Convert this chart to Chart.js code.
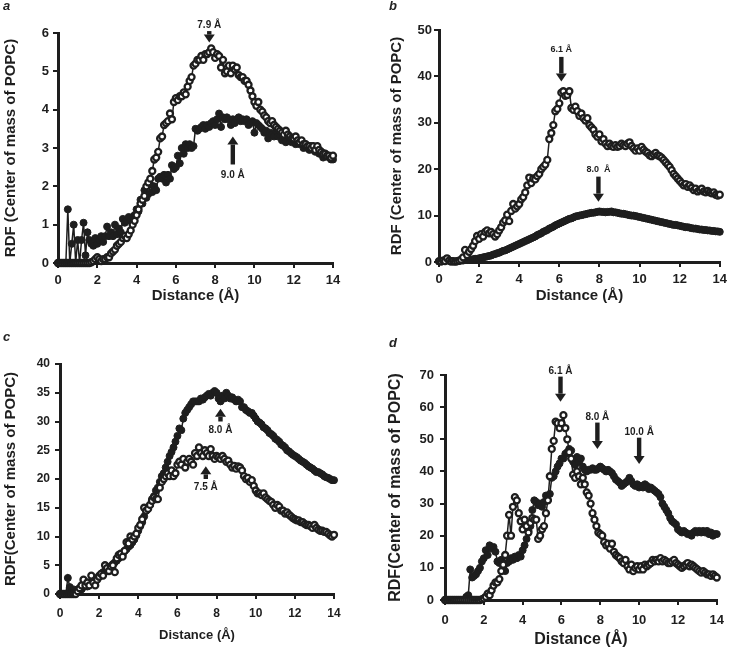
<!DOCTYPE html>
<html lang="en">
<head>
    <meta charset="UTF-8">
    <title>RDF (Center of mass of POPC)</title>
    <script src="https://cdn.jsdelivr.net/npm/chart.js"></script>
    <style>
        body { margin: 0; background: #fff; }
        #page { position: relative; width: 732px; height: 649px; }
        .panel { position: absolute; }
        .letter { position: absolute; font: italic bold 13px "Liberation Sans", Arial, sans-serif; color: #222; }
    </style>
</head>
<body>
<div id="page">
    <div class="panel" style="left:0;top:0"><canvas id="chartA" width="366" height="305"></canvas></div>
    <div class="panel" style="left:366px;top:0"><canvas id="chartB" width="366" height="305"></canvas></div>
    <div class="panel" style="left:0;top:305px"><canvas id="chartC" width="366" height="344"></canvas></div>
    <div class="panel" style="left:366px;top:305px"><canvas id="chartD" width="366" height="344"></canvas></div>
    <span class="letter" style="left:3px;top:-2px">a</span>
    <span class="letter" style="left:389px;top:-2px">b</span>
    <span class="letter" style="left:3px;top:329px">c</span>
    <span class="letter" style="left:389px;top:335px">d</span>
</div>

<script>
    // distance axis (Å), 0.1 Å bins
    const distance = [
        0.0, 0.1, 0.2, 0.3, 0.4, 0.5, 0.6, 0.7, 0.8, 0.9,
        1.0, 1.1, 1.2, 1.3, 1.4, 1.5, 1.6, 1.7, 1.8, 1.9,
        2.0, 2.1, 2.2, 2.3, 2.4, 2.5, 2.6, 2.7, 2.8, 2.9,
        3.0, 3.1, 3.2, 3.3, 3.4, 3.5, 3.6, 3.7, 3.8, 3.9,
        4.0, 4.1, 4.2, 4.3, 4.4, 4.5, 4.6, 4.7, 4.8, 4.9,
        5.0, 5.1, 5.2, 5.3, 5.4, 5.5, 5.6, 5.7, 5.8, 5.9,
        6.0, 6.1, 6.2, 6.3, 6.4, 6.5, 6.6, 6.7, 6.8, 6.9,
        7.0, 7.1, 7.2, 7.3, 7.4, 7.5, 7.6, 7.7, 7.8, 7.9,
        8.0, 8.1, 8.2, 8.3, 8.4, 8.5, 8.6, 8.7, 8.8, 8.9,
        9.0, 9.1, 9.2, 9.3, 9.4, 9.5, 9.6, 9.7, 9.8, 9.9,
        10.0, 10.1, 10.2, 10.3, 10.4, 10.5, 10.6, 10.7, 10.8, 10.9,
        11.0, 11.1, 11.2, 11.3, 11.4, 11.5, 11.6, 11.7, 11.8, 11.9,
        12.0, 12.1, 12.2, 12.3, 12.4, 12.5, 12.6, 12.7, 12.8, 12.9,
        13.0, 13.1, 13.2, 13.3, 13.4, 13.5, 13.6, 13.7, 13.8, 13.9,
        14.0
    ];
    const xTicks = [0, 2, 4, 6, 8, 10, 12, 14];

    // panel a
    const aFilled = [
        0, 0, 0, 0, 0, 1.4, 0, 0.5, 1.0, 0,
        0.6, 0, 0.6, 1.05, 0.2, 0.8, 0.6, 0.5, 0.45, 0.65,
        0.5, 0.6, 0.7, 0.55, 0.7, 0.95, 0.7, 0.8, 0.7, 1.0,
        0.75, 0.9, 0.8, 1.15, 1.05, 1.1, 1.2, 1.1, 1.2, 1.25,
        1.4, 1.35, 1.65, 1.55, 1.9, 1.7, 1.8, 2.05, 1.85, 2.0,
        1.9, 2.2, 2.25, 2.2, 2.3, 2.1, 2.3, 2.2, 2.55, 2.45,
        2.5, 2.8, 2.6, 3.0, 2.85, 3.1, 3.0, 3.1, 3.0, 3.05,
        3.5, 3.45, 3.5, 3.55, 3.6, 3.5, 3.6, 3.55, 3.65, 3.7,
        3.6, 3.75, 3.9, 3.55, 3.8, 3.75, 3.8, 3.75, 3.6, 3.75,
        3.65, 3.75, 3.8, 3.7, 3.75, 3.7, 3.75, 3.6, 3.65, 3.7,
        3.4, 3.65, 3.6, 3.55, 3.5, 3.4, 3.45, 3.25, 3.4, 3.35,
        3.3, 3.45, 3.3, 3.35, 3.2, 3.3, 3.15, 3.35, 3.2, 3.15,
        3.25, 3.1, 3.2, 3.1, 3.15, 3.0, 3.1, 3.0, 2.95, 3.05,
        2.95, 2.9, 3.0, 2.85, 2.9, 2.75, 2.85, 2.8, 2.75, 2.7,
        2.7
    ];
    const aOpen = [
        0, 0, 0, 0, 0, 0, 0, 0, 0, 0,
        0, 0, 0, 0, 0, 0, 0, 0.02, 0.05, 0.1,
        0.15, 0.1, 0.05, 0.1, 0.1, 0.15, 0.15, 0.25, 0.3, 0.35,
        0.45, 0.5, 0.55, 0.65, 0.7, 0.65, 0.75, 0.85, 1.0, 1.1,
        1.25, 1.4, 1.55, 1.65, 1.75, 2.0, 2.1, 2.2, 2.4, 2.7,
        2.75, 2.9, 3.25, 3.3, 3.6, 3.65, 3.7, 3.9, 3.75, 4.2,
        4.3, 4.25, 4.35, 4.35, 4.45, 4.4, 4.6, 4.75, 4.85, 5.15,
        5.2, 5.3, 5.3, 5.4, 5.3, 5.45, 5.45, 5.5, 5.6, 5.5,
        5.35, 5.45, 5.4, 5.1, 5.3, 4.95, 5.0, 5.15, 4.95, 5.15,
        5.05, 5.1, 4.9, 4.85, 4.85, 4.75, 4.75, 4.65, 4.5, 4.35,
        4.2, 4.1, 4.2, 4.0, 3.95, 3.85, 3.8, 3.7, 3.65, 3.7,
        3.6, 3.55, 3.5, 3.45, 3.4, 3.35, 3.45, 3.35, 3.3, 3.25,
        3.25, 3.3, 3.2, 3.15, 3.2, 3.1, 3.1, 3.05, 3.05, 3.0,
        3.05, 2.95, 3.05, 2.95, 2.9, 2.85, 2.85, 2.8, 2.8, 2.75,
        2.8
    ];

    // panel b
    const bFilled = [
        0.1, 0.2, 0.3, 0.4, 0.6, 0.3, 0.2, 0.1, 0.1, 0.1,
        0.2, 0.3, 0.3, 0.4, 0.4, 0.5, 0.5, 0.6, 0.7, 0.7,
        0.8, 0.9, 1.0, 1.1, 1.2, 1.3, 1.4, 1.6, 1.7, 1.9,
        2.0, 2.2, 2.4, 2.5, 2.7, 2.9, 3.1, 3.3, 3.5, 3.7,
        3.9, 4.1, 4.3, 4.5, 4.7, 4.9, 5.1, 5.3, 5.5, 5.8,
        6.0, 6.2, 6.5, 6.7, 6.9, 7.2, 7.4, 7.6, 7.9, 8.1,
        8.3, 8.5, 8.7, 8.9, 9.1, 9.3, 9.4, 9.6, 9.8, 9.9,
        10.0, 10.1, 10.2, 10.3, 10.4, 10.5, 10.6, 10.6, 10.7, 10.8,
        10.9, 10.8, 10.8, 10.7, 10.8, 10.8, 10.9, 10.7, 10.7, 10.6,
        10.5, 10.4, 10.4, 10.3, 10.2, 10.1, 10.0, 10.0, 9.9, 9.8,
        9.7, 9.6, 9.5, 9.4, 9.3, 9.2, 9.1, 9.0, 8.9, 8.8,
        8.7, 8.6, 8.5, 8.4, 8.3, 8.2, 8.1, 8.0, 8.0, 7.9,
        7.8, 7.7, 7.6, 7.5, 7.5, 7.4, 7.3, 7.2, 7.2, 7.1,
        7.0, 7.0, 6.9, 6.9, 6.8, 6.8, 6.7, 6.7, 6.6, 6.6,
        6.5
    ];
    const bOpen = [
        0.2, 0.1, 0.3, 0.2, 0.8, 0.3, 0.1, 0.2, 0.1, 0.2,
        0.3, 0.5, 1.0, 2.6, 1.5, 2.2, 2.8, 3.5, 4.5, 5.6,
        5.0, 6.0, 5.5, 6.5, 6.8, 6.2, 6.5, 6.0, 5.5, 6.0,
        6.8, 7.5, 8.5, 9.0, 10.2, 8.8, 11.0, 12.5, 11.5, 12.0,
        12.5, 13.5, 14.0, 15.0, 16.5, 18.2, 17.0, 18.0, 17.8, 18.5,
        19.0, 20.0, 20.5, 21.0, 22.0, 26.5, 27.8, 29.5, 32.5, 33.0,
        34.2, 36.5, 36.8, 35.8, 36.0, 36.8, 33.2, 32.8, 33.5, 32.5,
        31.5, 32.0, 31.0, 30.5, 31.0, 29.5, 29.0, 28.5, 27.5, 27.0,
        27.5, 26.0, 26.5, 25.5, 25.0, 25.5, 25.0, 24.8, 25.2, 24.8,
        25.0, 25.5, 25.2, 25.0, 25.5, 25.8, 25.0, 24.5, 24.0, 24.5,
        24.0, 24.8, 24.2, 23.8, 23.5, 23.0, 22.8, 23.2, 23.5, 23.0,
        22.8, 22.5, 22.0, 21.5, 21.0, 20.5, 19.8, 19.0, 18.5, 18.0,
        17.5, 17.0, 16.5, 16.8, 16.2, 16.5, 16.0, 15.5, 15.8, 15.2,
        15.5, 15.8, 15.2, 15.0, 15.3, 15.0, 14.8, 15.0, 14.5, 14.3,
        14.5
    ];

    // panel c
    const cFilled = [
        0, 0, 0, 0, 2.8, 1.2, 0.5, 0.8, 0.3, 0.6,
        1.0, 0.8, 1.2, 1.5, 1.3, 1.8, 2.0, 1.8, 2.2, 2.8,
        3.2, 3.5, 3.8, 4.0, 4.2, 4.5, 4.8, 5.2, 5.5, 5.8,
        6.2, 6.5, 6.8, 7.5, 7.8, 8.2, 8.5, 9.0, 9.5, 10.2,
        11.0, 11.8, 12.5, 13.5, 14.5, 15.0, 15.5, 16.5, 17.0, 18.0,
        18.5, 19.5, 20.5, 21.0, 22.0, 23.0, 24.0, 24.7, 25.5, 26.5,
        27.5, 28.8, 28.5, 30.5, 31.5, 32.0, 32.5, 33.0, 33.5, 33.5,
        33.5, 33.5, 34.0, 33.8, 34.2, 34.5, 34.8, 34.5, 35.0, 35.3,
        35.0, 34.0, 33.5, 34.5, 34.0, 35.0, 34.5, 34.0, 34.2, 33.8,
        33.5, 33.8, 33.5, 32.5, 32.5, 32.0, 31.8, 31.5, 31.5, 31.0,
        30.5, 30.0, 29.8, 29.5, 29.0, 28.8, 28.5, 28.0, 27.8, 27.5,
        27.0, 26.8, 26.5, 26.0, 25.8, 25.5, 25.0, 24.8, 24.5, 24.2,
        24.0, 23.8, 23.5, 23.2, 23.0, 22.8, 22.5, 22.2, 22.0, 21.8,
        21.5, 21.2, 21.2, 21.0, 20.8, 20.5, 20.3, 20.2, 20.0, 19.8,
        19.8
    ];
    const cOpen = [
        0, 0, 0, 0, 0, 0, 0, 0, 0, 0.5,
        1.0, 1.5, 2.5, 1.5, 2.0, 1.5, 3.2, 2.0, 1.5, 2.5,
        3.0, 3.5, 3.2, 5.0, 4.5, 4.0, 4.8, 5.0, 3.8, 6.2,
        6.8, 7.0, 6.5, 7.5, 9.0, 8.8, 10.0, 9.5, 10.0, 10.5,
        11.5, 12.0, 13.0, 15.0, 14.5, 14.8, 15.5, 16.2, 16.8, 16.5,
        16.5, 18.5, 19.5, 20.0, 20.5, 21.0, 20.5, 21.5, 20.5, 21.0,
        22.5, 23.0, 22.5, 23.5, 22.0, 23.0, 23.5, 23.0, 22.5, 24.5,
        24.0, 25.5, 24.5, 24.0, 25.0, 24.5, 24.0, 25.2, 24.0, 23.5,
        24.0, 23.8, 23.5, 24.0, 23.5, 23.0, 23.2, 22.5, 22.0, 22.3,
        21.8, 22.2, 22.0, 21.5, 20.5, 20.0, 20.2, 19.5, 19.8, 18.8,
        18.0, 17.5, 17.5, 17.2, 17.5, 16.8, 16.5, 16.2, 16.0, 15.5,
        15.0, 15.5, 15.2, 14.5, 14.5, 14.0, 14.2, 13.8, 13.5, 13.2,
        13.0, 12.8, 12.8, 12.5, 12.5, 12.2, 12.0, 12.0, 11.8, 11.5,
        12.0, 11.5, 11.2, 11.0, 11.0, 10.8, 10.8, 10.5, 10.2, 10.0,
        10.3
    ];

    // panel d
    const dFilled = [
        0, 0, 0, 0, 0, 0, 0, 0, 0, 0,
        0, 1.0, 1.5, 9.5, 7.0, 7.5, 8.0, 9.0, 10.0, 12.0,
        13.0, 15.5, 14.0, 17.0, 16.0, 16.5, 15.0, 12.0, 11.5, 12.5,
        10.0, 9.0, 11.5, 12.0, 13.0, 12.5, 13.5, 13.0, 14.0, 13.5,
        15.5, 17.0, 19.0, 21.5, 23.0, 28.0, 31.0, 30.5, 29.5, 30.0,
        29.0, 30.5, 32.5, 31.0, 33.0, 38.0, 38.5, 40.0, 41.5, 42.5,
        44.0, 44.0, 45.5, 46.0, 47.0, 46.5, 43.0, 42.0, 44.5, 43.0,
        44.0, 41.5, 40.5, 40.0, 40.5, 40.5, 41.0, 40.5, 40.5, 41.0,
        41.5, 41.0, 40.5, 40.0, 40.5, 40.0, 39.5, 38.5, 37.5, 37.0,
        36.5, 35.5, 36.0, 36.5, 37.0, 38.0, 37.0, 36.0, 35.5, 36.0,
        35.0, 35.5, 35.0, 36.0, 35.5, 34.5, 35.0, 34.5, 34.0, 33.5,
        33.0, 32.0, 30.0, 29.0, 28.0, 27.0, 25.5, 24.5, 24.0, 23.5,
        22.0, 21.5, 21.0, 21.5, 21.0, 20.5, 20.5, 20.0, 21.0, 21.5,
        21.0, 21.5, 21.0, 21.5, 21.0, 21.5, 20.5, 21.0, 20.0, 20.5,
        20.5
    ];
    const dOpen = [
        0, 0, 0, 0, 0, 0, 0, 0, 0, 0,
        0, 0, 0, 0, 0, 0, 0, 0, 0, 0.2,
        0.5, 1.0, 2.0, 1.5, 3.0, 4.5, 5.5, 5.5, 6.5, 9.0,
        11.0, 14.0, 20.0, 26.5, 20.0, 29.0, 32.0, 31.0, 27.0, 24.5,
        22.0, 25.0, 23.0, 21.0, 24.0, 25.5, 25.0, 25.0, 19.0, 20.0,
        22.0, 23.0, 27.0, 31.0, 38.5, 47.0, 49.5, 55.5, 55.0, 53.5,
        55.0, 57.5, 53.5, 50.0, 46.0, 44.0, 39.0, 38.0, 40.0, 38.5,
        36.0, 38.0, 36.0, 33.5, 32.5, 30.0, 27.0, 25.0, 23.0, 21.0,
        20.5, 20.0, 18.0, 17.0, 17.5, 16.0, 17.5, 15.0, 14.0, 13.5,
        13.0, 12.0, 11.5, 12.5, 10.5, 9.5, 11.0, 9.0, 10.0, 10.5,
        9.5, 10.5, 9.5, 11.0, 10.5, 11.0, 11.5, 12.5, 12.0, 12.5,
        12.0, 13.0, 12.0, 12.5, 12.0, 11.5, 11.5, 12.0, 12.5, 11.5,
        11.0, 10.5, 10.0, 10.5, 11.0, 11.5, 10.5, 11.0, 10.5, 10.0,
        9.5, 9.0, 8.5, 9.0, 8.5, 8.0, 8.0, 7.5, 8.0, 7.5,
        7.0
    ];

    // peak markers: x position, arrow tail/tip and label height (data units)
    const aArrows = [
        { x: 7.7, from: 6.05, to: 5.75, label: '7.9 Å', labelY: 6.2 },
        { x: 8.9, from: 2.57, to: 3.3, label: '9.0 Å', labelY: 2.3 }
    ];
    const bArrows = [
        { x: 6.1, from: 44.2, to: 38.9, label: '6.1 Å', labelY: 45.8 },
        { x: 7.95, from: 18.4, to: 13.0, label: '8.0  Å', labelY: 19.9 }
    ];
    const cArrows = [
        { x: 8.2, from: 30.0, to: 32.2, label: '8.0 Å', labelY: 28.4 },
        { x: 7.45, from: 20.0, to: 22.2, label: '7.5 Å', labelY: 18.5 }
    ];
    const dArrows = [
        { x: 5.95, from: 69.5, to: 61.7, label: '6.1 Å', labelY: 71.3 },
        { x: 7.85, from: 55.2, to: 47.0, label: '8.0 Å', labelY: 57.0 },
        { x: 10.0, from: 50.5, to: 42.3, label: '10.0 Å', labelY: 52.3 }
    ];

    const INK = '#1e1e1e';
    const FONT = '"Liberation Sans", Arial, sans-serif';

    const arrowPlugin = {
        id: 'peakArrows',
        afterDatasetsDraw(chart, args, opts) {
            const ctx = chart.ctx;
            const xs = chart.scales.x, ys = chart.scales.y;
            ctx.save();
            ctx.fillStyle = INK;
            ctx.textAlign = 'center';
            ctx.textBaseline = 'middle';
            ctx.font = 'bold ' + opts.fontSize + 'px ' + FONT;
            opts.items.forEach(a => {
                const px = xs.getPixelForValue(a.x);
                const tail = ys.getPixelForValue(a.from);
                const tip = ys.getPixelForValue(a.to);
                const dir = tip > tail ? 1 : -1;
                const head = 8;
                const neck = tip - dir * head;
                ctx.fillRect(px - 2.2, Math.min(tail, neck), 4.4, Math.abs(neck - tail));
                ctx.beginPath();
                ctx.moveTo(px - 5.5, neck);
                ctx.lineTo(px + 5.5, neck);
                ctx.lineTo(px, tip);
                ctx.closePath();
                ctx.fill();
                ctx.fillText(a.label, px, ys.getPixelForValue(a.labelY));
            });
            ctx.restore();
        }
    };

    function points(vals) {
        return vals.map((v, i) => ({ x: distance[i], y: v }));
    }

    function makePanel(id, p) {
        const ctx = document.getElementById(id).getContext('2d');
        return new Chart(ctx, {
            type: 'scatter',
            data: {
                datasets: [{
                    data: points(p.open),
                    showLine: true,
                    borderColor: INK,
                    borderWidth: 1.5,
                    pointRadius: 3,
                    pointBorderWidth: 2.3,
                    pointBackgroundColor: '#fff',
                    pointBorderColor: INK,
                    clip: false
                }, {
                    data: points(p.filled),
                    showLine: true,
                    borderColor: INK,
                    borderWidth: 1.5,
                    pointRadius: 3.5,
                    pointBorderWidth: 1,
                    pointBackgroundColor: INK,
                    pointBorderColor: INK,
                    clip: false
                }]
            },
            options: {
                responsive: false,
                devicePixelRatio: 1,
                animation: false,
                layout: { padding: p.pad },
                plugins: {
                    legend: { display: false },
                    tooltip: { enabled: false },
                    peakArrows: { items: p.arrows, fontSize: p.arrowFont }
                },
                scales: {
                    x: {
                        type: 'linear',
                        min: 0, max: 14,
                        afterFit: s => { s.height = p.xHeight; },
                        afterBuildTicks: s => { s.ticks = xTicks.map(v => ({ value: v })); },
                        grid: { drawOnChartArea: false, drawTicks: true, tickLength: 5, lineWidth: 2, color: INK },
                        border: { display: true, width: 3, color: INK },
                        ticks: { color: INK, padding: p.xTickPad, maxRotation: 0, font: { family: FONT, weight: 'bold', size: p.tickSize } },
                        title: { display: true, text: 'Distance (Å)', color: INK, padding: { top: 0, bottom: p.xTitlePad }, font: { family: FONT, weight: 'bold', size: p.titleSize } }
                    },
                    y: {
                        min: 0, max: p.yMax,
                        afterFit: s => { s.width = p.yWidth; },
                        grid: { drawOnChartArea: false, drawTicks: true, tickLength: 5, lineWidth: 2, color: INK },
                        border: { display: true, width: 3, color: INK },
                        ticks: { stepSize: p.yStep, color: INK, padding: p.yTickPad, font: { family: FONT, weight: 'bold', size: p.tickSize } },
                        title: { display: true, text: p.yTitle, color: INK, padding: { top: 2, bottom: 0 }, font: { family: FONT, weight: 'bold', size: p.yTitleSize } }
                    }
                }
            },
            plugins: [arrowPlugin]
        });
    }

    makePanel('chartA', {
        open: aOpen, filled: aFilled, yMax: 6, yStep: 1, arrows: aArrows, arrowFont: 10,
        yTitle: 'RDF (Center of mass of POPC)',
        pad: { left: 0, right: 33, top: 33, bottom: 0 }, yWidth: 58, xHeight: 42,
        tickSize: 13, titleSize: 15, yTitleSize: 15, xTickPad: 5, yTickPad: 4, xTitlePad: 0
    });
    makePanel('chartB', {
        open: bOpen, filled: bFilled, yMax: 50, yStep: 10, arrows: bArrows, arrowFont: 9,
        yTitle: 'RDF (Center of mass of POPC)',
        pad: { left: 20, right: 11, top: 30, bottom: 0 }, yWidth: 53, xHeight: 43,
        tickSize: 13, titleSize: 15, yTitleSize: 15, xTickPad: 5, yTickPad: 2, xTitlePad: 0
    });
    makePanel('chartC', {
        open: cOpen, filled: cFilled, yMax: 40, yStep: 5, arrows: cArrows, arrowFont: 10,
        yTitle: 'RDF(Center of mass of POPC)',
        pad: { left: 0, right: 32, top: 59, bottom: 0 }, yWidth: 60, xHeight: 55,
        tickSize: 12, titleSize: 13, yTitleSize: 15, xTickPad: 7, yTickPad: 5, xTitlePad: 6
    });
    makePanel('chartD', {
        open: dOpen, filled: dFilled, yMax: 70, yStep: 10, arrows: dArrows, arrowFont: 10,
        yTitle: 'RDF(Center of mass of POPC)',
        pad: { left: 18, right: 7, top: 70, bottom: 0 }, yWidth: 61, xHeight: 49,
        tickSize: 13, titleSize: 16, yTitleSize: 16, xTickPad: 8, yTickPad: 6, xTitlePad: 0
    });
</script>
</body>
</html>
